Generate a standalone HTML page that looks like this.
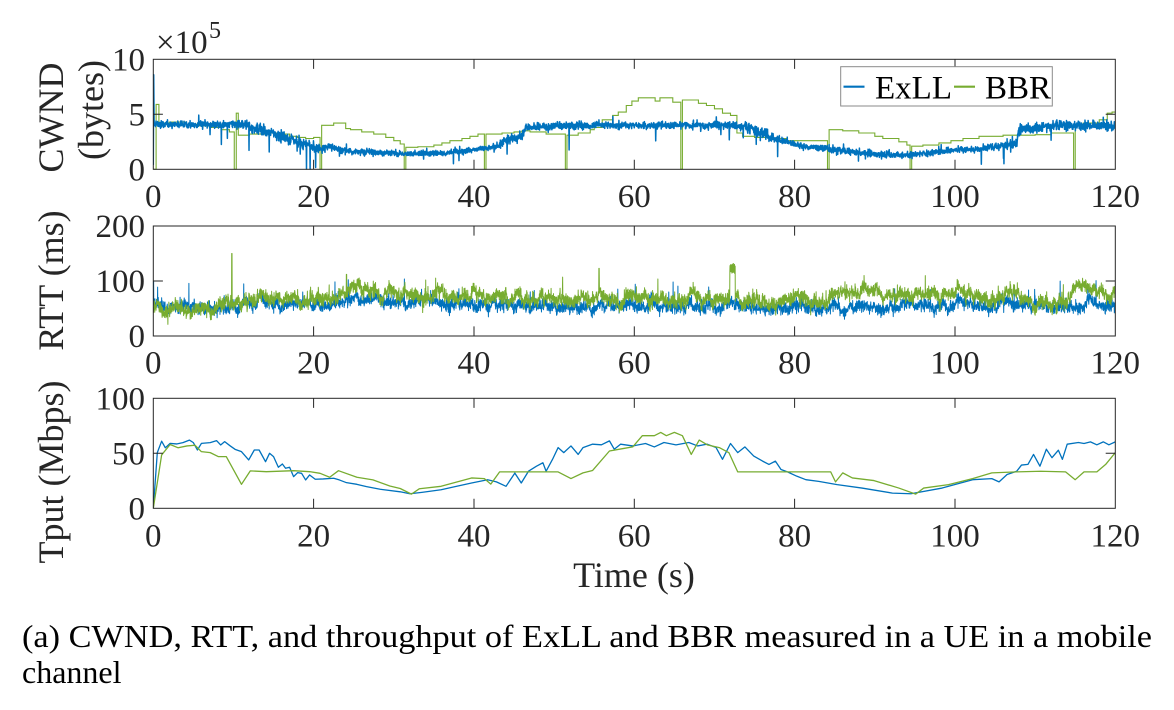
<!DOCTYPE html>
<html><head><meta charset="utf-8">
<style>
html,body{margin:0;padding:0;background:#fff;}
svg{display:block;}
text{font-family:"Liberation Serif","Times New Roman",serif;}
.tk{font-size:33px;fill:#262626;}
.lb{font-size:36px;fill:#262626;}
</style></head>
<body>
<svg width="1174" height="710" viewBox="0 0 1174 710" xmlns="http://www.w3.org/2000/svg">
<defs>
<clipPath id="c1"><rect x="153.3" y="59.3" width="962" height="110.5"/></clipPath>
<clipPath id="c2"><rect x="153.3" y="226" width="962" height="110.5"/></clipPath>
<clipPath id="c3"><rect x="153.3" y="398.3" width="962" height="110.5"/></clipPath>
</defs>
<rect width="1174" height="710" fill="#fff"/>

<!-- Panel 1 data -->
<g clip-path="url(#c1)">
<path id="g1" fill="none" stroke="#77AC30" stroke-width="1.1" stroke-linejoin="miter"/>
<path id="b1" fill="none" stroke="#0072BD" stroke-width="1.5" stroke-linejoin="round"/>
</g>
<!-- Panel 2 data -->
<g clip-path="url(#c2)">
<path id="b2" fill="none" stroke="#0072BD" stroke-width="1" stroke-linejoin="round"/>
<path id="g2" fill="none" stroke="#77AC30" stroke-width="1" stroke-linejoin="round"/>
</g>
<!-- Panel 3 data -->
<g clip-path="url(#c3)">
<g transform="translate(153.3,508.3) scale(8.01667,-1.1)">
<polyline fill="none" stroke="#0072BD" stroke-width="1.3" vector-effect="non-scaling-stroke" stroke-linejoin="round" points="0,0 0.5,50.6 1.04,61 1.5,55 2.1,59 2.9,58.5 3.7,59.7 4.5,62 5,59.7 5.5,53 6,59 7.1,59.7 7.9,61.5 8.4,57.6 8.9,60.6 9.6,56.7 10.2,53.6 11,51.5 11.9,44 12.6,53 13.2,53 14,42.4 14.5,50 15,47 15.6,37.3 16.1,40.3 16.5,36.4 17,37.3 17.5,28.8 18,32.4 18.5,31.8 19,25.8 19.5,30.3 20.2,26.4 21.2,26.7 22.5,27.3 23.2,25.8 24.1,23.3 25.4,21.8 26.6,19.7 28.3,17.3 30.8,15 32,13.2 33.5,14.5 35.9,16.9 37.5,19.5 39.7,23 41.7,26 42.8,24 44,20 45.1,32 45.9,23 46.8,33.7 47.8,38.3 48.6,41.4 49,33.7 49.8,44.5 50.5,55.2 51.2,50.6 52.1,56.7 53,49 53.6,55.2 54.8,58.3 55.9,57.7 56.9,61.3 57.5,53.7 58.3,58.3 59.8,56.7 61.4,58.9 62.5,55.8 63.7,59.8 65.2,57.7 66.8,59.8 67.9,56.7 69.1,58.3 70.2,55.2 71,44.5 72,58.9 72.9,50.6 73.8,55.8 74.9,47.5 76,42.9 76.8,39.9 77.6,42.9 78.3,35.3 79.1,33.1 80.3,29.1 81.4,26 83,24.5 85.3,21.5 88.4,18.4 92.2,13.8 94.5,13.2 98.4,18.4 102.2,26 104.6,27 105.5,24 106.5,30.7 107.7,33.7 108.3,39.3 109.1,39.9 109.8,49 110.6,38.3 111.4,53.7 112.1,46 112.9,52.8 113.4,44.5 114,58.3 115.4,59.8 116.1,58.9 116.9,60.4 117.7,57.7 118.5,60.4 119.2,57.7 120,60.4"/>
<polyline fill="none" stroke="#77AC30" stroke-width="1.3" vector-effect="non-scaling-stroke" stroke-linejoin="round" points="0,0 1.04,48.5 2.1,58 3.1,55 4.2,56.7 5.2,57.3 6,51.5 7.1,50.6 8.1,47 9.1,47 11,21.8 12.1,34 14.1,33.3 17.5,34.2 19.5,33.3 20.8,31.8 22,28.2 23.1,34.2 25.4,28.2 27.4,25.8 29.5,20.3 30.8,18 32.2,12.9 33.2,17.8 35.9,20 39.7,27.6 41.3,27 42.1,22 43.2,33.1 50.5,33.1 52.1,27 53.6,32.2 54.8,34.4 56.9,52.1 58.6,54.3 59.8,55.8 61,66 62.5,66 63.3,69 64,66 65,69 66,66 67.1,49 68.1,62 69.1,57.7 70.6,55.2 71.8,50.6 72.9,33.1 84.5,33.1 85.1,24 86,32.2 87.2,27.6 89.9,25.2 93,18.4 95.1,12.9 96.1,18.4 99.2,21.5 102.2,27 104.6,32.2 107.7,33.1 110.7,33.7 113.8,33.1 115,26 116.1,33.1 117.7,33.1 118.8,39.9 120,50.6"/>
</g>
</g>

<!-- Axes boxes -->
<g fill="none" stroke="#262626" stroke-width="1">
<rect x="153.3" y="59.3" width="962" height="110"/>
<rect x="153.3" y="226" width="962" height="110"/>
<rect x="153.3" y="398.3" width="962" height="110"/>
<path d="M313.6 59.3v9.6M313.6 169.3v-9.6M474 59.3v9.6M474 169.3v-9.6M634.3 59.3v9.6M634.3 169.3v-9.6M794.6 59.3v9.6M794.6 169.3v-9.6M955 59.3v9.6M955 169.3v-9.6M153.3 114.3h9.6M1115.3 114.3h-9.6"/>
<path d="M313.6 226v9.6M313.6 336v-9.6M474 226v9.6M474 336v-9.6M634.3 226v9.6M634.3 336v-9.6M794.6 226v9.6M794.6 336v-9.6M955 226v9.6M955 336v-9.6M153.3 281h9.6M1115.3 281h-9.6"/>
<path d="M313.6 398.3v9.6M313.6 508.3v-9.6M474 398.3v9.6M474 508.3v-9.6M634.3 398.3v9.6M634.3 508.3v-9.6M794.6 398.3v9.6M794.6 508.3v-9.6M955 398.3v9.6M955 508.3v-9.6M153.3 453.3h9.6M1115.3 453.3h-9.6"/>
</g>

<!-- Legend -->
<rect x="840.7" y="66.7" width="211.6" height="39.3" fill="#fff" stroke="#8a8a8a" stroke-width="1"/>
<line x1="843.5" y1="86.7" x2="864.5" y2="86.7" stroke="#0072BD" stroke-width="2.2"/>
<line x1="954" y1="86.7" x2="975" y2="86.7" stroke="#77AC30" stroke-width="2.2"/>
<text x="875" y="98.5" style="font-size:33px;fill:#000">ExLL</text>
<text x="985" y="98.5" style="font-size:33px;fill:#000">BBR</text>

<!-- Y tick labels -->
<g class="tk" text-anchor="end">
<text x="145" y="70.5" class="tk">10</text>
<text x="145" y="125.3" class="tk">5</text>
<text x="145" y="180.3" class="tk">0</text>
<text x="145" y="237" class="tk">200</text>
<text x="145" y="292" class="tk">100</text>
<text x="145" y="347" class="tk">0</text>
<text x="145" y="409.3" class="tk">100</text>
<text x="145" y="464.3" class="tk">50</text>
<text x="145" y="519.3" class="tk">0</text>
</g>
<text x="156" y="53" class="tk">×10</text>
<text x="209" y="38" style="font-size:24px;fill:#262626">5</text>

<!-- X tick labels -->
<g text-anchor="middle">
<text x="153.3" y="207" class="tk">0</text><text x="313.6" y="207" class="tk">20</text><text x="474" y="207" class="tk">40</text><text x="634.3" y="207" class="tk">60</text><text x="794.6" y="207" class="tk">80</text><text x="955" y="207" class="tk">100</text><text x="1115.3" y="207" class="tk">120</text>
<text x="153.3" y="373.5" class="tk">0</text><text x="313.6" y="373.5" class="tk">20</text><text x="474" y="373.5" class="tk">40</text><text x="634.3" y="373.5" class="tk">60</text><text x="794.6" y="373.5" class="tk">80</text><text x="955" y="373.5" class="tk">100</text><text x="1115.3" y="373.5" class="tk">120</text>
<text x="153.3" y="546.3" class="tk">0</text><text x="313.6" y="546.3" class="tk">20</text><text x="474" y="546.3" class="tk">40</text><text x="634.3" y="546.3" class="tk">60</text><text x="794.6" y="546.3" class="tk">80</text><text x="955" y="546.3" class="tk">100</text><text x="1115.3" y="546.3" class="tk">120</text>
</g>

<!-- Axis labels -->
<g text-anchor="middle">
<text class="lb" transform="translate(63,117.5) rotate(-90)">CWND</text>
<text class="lb" transform="translate(103,110) rotate(-90)">(bytes)</text>
<text class="lb" transform="translate(63,280.5) rotate(-90)">RTT (ms)</text>
<text class="lb" transform="translate(63,472) rotate(-90)">Tput (Mbps)</text>
<text class="lb" x="634" y="587">Time (s)</text>
</g>

<!-- Caption -->
<text x="22" y="647" style="font-size:32px;fill:#000" textLength="1130" lengthAdjust="spacingAndGlyphs">(a)  CWND, RTT, and throughput of ExLL and BBR measured in a UE in a mobile</text>
<text x="22" y="683" style="font-size:32px;fill:#000">channel</text>
</svg>

<script>
(function(){
function mb(a){return function(){a|=0;a=a+0x6D2B79F5|0;var t=Math.imul(a^a>>>15,1|a);t=t+Math.imul(t^t>>>7,61|t)^t;return((t^t>>>14)>>>0)/4294967296;};}
var R=mb(20240611);
function G(){var u=R()||1e-9,v=R();return Math.sqrt(-2*Math.log(u))*Math.cos(6.2831853*v);}
function I(k,t){if(t<=k[0][0])return k[0][1];for(var i=1;i<k.length;i++){if(t<=k[i][0]){var a=k[i-1],b=k[i];return a[1]+(b[1]-a[1])*(t-a[0])/(b[0]-a[0]);}}return k[k.length-1][1];}
var L=153.3,W=962;
function X(t){return (L+t*W/120).toFixed(2);}
function Y(top,max,v){if(v<0)v=0;if(v>max)v=max;return (top+110*(1-v/max)).toFixed(2);}
function S(id,d){var e=document.getElementById(id);if(e)e.setAttribute('d',d);}

/* Blue CWND */
var bK=[[0,4.1],[5,4.05],[10,4.1],[11.5,4.0],[12.5,3.7],[14,3.5],[15,3.2],[16,3.0],[17.5,2.6],[19,2.35],[20,2.0],[21,1.9],[22,2.15],[23,1.8],[25,1.65],[28,1.55],[31,1.4],[35,1.4],[37,1.55],[40,1.75],[43,2.1],[44,2.7],[46,3.0],[46.4,3.8],[50,3.95],[60,4.0],[72,4.0],[74,3.8],[75.5,3.4],[77,2.95],[79,2.5],[81,2.1],[84,1.9],[87,1.6],[90,1.35],[94,1.3],[97,1.5],[100,1.75],[103,1.85],[106,2.15],[107.6,2.3],[108,3.65],[110,3.75],[113,4.0],[120,3.95]];
var sK=[[0,0.14],[10,0.16],[12,0.27],[20,0.2],[22,0.13],[42,0.13],[44,0.25],[47,0.17],[72,0.16],[74,0.25],[80,0.16],[104,0.13],[107,0.22],[120,0.2]];
var pK=[[0,0.005],[10,0.015],[20,0.013],[22,0.0025],[40,0.0025],[44,0.015],[48,0.004],[72,0.004],[76,0.011],[82,0.003],[104,0.004],[108,0.013],[120,0.007]];
var N=4000,d='M'+X(0)+' '+Y(59.3,10,0.4)+'L'+X(0.05)+' '+Y(59.3,10,8.6)+'L'+X(0.1)+' '+Y(59.3,10,4.5);
for(var i=4;i<=N;i++){var t=i*120/N;var v=I(bK,t)+G()*I(sK,t);
 if(R()<I(pK,t))v-=0.4+R()*1.8;
 if(R()<0.008)v+=0.25+R()*0.45;
 d+='L'+X(t)+' '+Y(59.3,10,v);}
S('b1',d);

/* Green CWND (steps) */
var st=[[0,0],[0.35,5.9],[0.7,4.2],[2,4.3],[4,4.1],[5.5,3.95],[7,3.8],[8.5,3.6],[9.5,3.4],[10.1,0],[10.35,5.1],[10.6,3.1],[12,3.2],[14,3.3],[16,3.2],[17,3.0],[18,2.9],[19,2.8],[20,2.9],[20.8,0],[21.0,4.0],[22.5,4.2],[24,3.7],[24.6,3.6],[26,3.4],[27.5,3.2],[29,2.9],[30,2.6],[30.8,2.3],[31.3,0],[31.5,2.0],[33,2.05],[35,2.2],[36,2.4],[37,2.6],[38.5,2.8],[39.5,3.0],[40.5,3.2],[41.3,0],[41.5,3.2],[43.5,3.3],[45,3.4],[46,3.5],[47,3.4],[49,3.2],[51.4,0],[51.6,3.1],[53,3.3],[54.5,3.6],[55,3.8],[56,4.5],[57.3,4.9],[58,5.2],[59,5.8],[59.7,6.2],[60.5,6.5],[62.6,6.2],[63.2,6.5],[64.8,6.1],[65.8,0],[66.0,6.3],[68,6.0],[69,5.8],[70,5.5],[71,5.1],[72,4.9],[72.8,3.3],[73.5,3.0],[75,2.9],[77,2.8],[79,2.6],[84.1,0],[84.3,3.6],[86,3.5],[88,3.3],[90,3.0],[91,2.8],[93,2.5],[94,2.2],[94.4,0],[94.6,2.1],[96,2.2],[98,2.4],[99.5,2.6],[101,2.8],[103,3.0],[106,3.1],[110,3.15],[112,3.3],[114.8,0],[115,4.0],[116,4.2],[118,4.5],[119,5.1],[119.6,5.2]];
var g='M'+X(0)+' '+Y(59.3,10,st[0][1]),pv=st[0][1];
for(var j=1;j<st.length;j++){g+='L'+X(st[j][0])+' '+Y(59.3,10,pv)+'L'+X(st[j][0])+' '+Y(59.3,10,st[j][1]);pv=st[j][1];}
g+='L'+X(120)+' '+Y(59.3,10,pv);
S('g1',g);

/* RTT */
function rtt(base,ar,innov,white,sp,spAmp,spBase,extra){
 var n=6000,s='',a=0;
 for(var i=0;i<=n;i++){var t=i*120/n;a=ar*a+innov*G();var v=I(base,t)+a+white*G();
  if(R()<sp)v+=spBase+R()*spAmp;
  if(extra){var e=extra(t);if(e!==null)v=e;}
  s+=(i?'L':'M')+X(t)+' '+Y(226,200,v);}
 return s;}
var bB=[[0,52],[8,53],[10,56],[15,60],[20,60],[25,63],[32,63],[40,58],[50,56],[60,54],[70,55],[72,57],[75,54],[80,54],[90,54],[100,56],[110,58],[114,56],[120,55]];
var gB=[[0,47],[8,49],[10,60],[15,64],[20,66],[22,75],[25,83],[30,82],[32,74],[35,72],[40,70],[50,69],[55,68],[60,72],[66,70],[70,66],[72,72],[73,63],[80,61],[84,62],[86,80],[91,80],[93,72],[100,74],[108,71],[110,66],[114,63],[115.5,90],[117.5,88],[118.5,78],[120,75]];
S('b2',rtt(bB,0.95,1.5,5,0.005,22,22,function(t){if(t<0.05)return 100;return null;}));
S('g2',rtt(gB,0.95,1.9,5.5,0.0025,15,15,function(t){
 if(Math.abs(t-9.8)<0.025)return 150;
 if(Math.abs(t-24.1)<0.025)return 112;
 if(Math.abs(t-55.6)<0.025)return 123;
 if(t>71.9&&t<72.6)return 112+R()*20;
 return null;}));
})();
</script>
</body></html>
